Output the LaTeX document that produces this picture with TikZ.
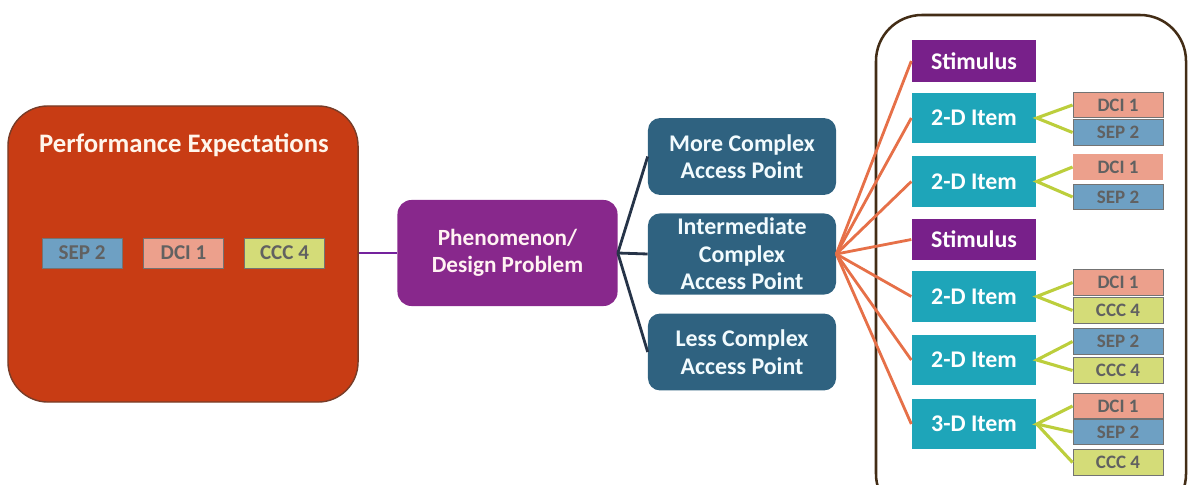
\documentclass[tikz,border=0pt]{standalone}
\usepackage{fontspec}
\setmainfont{Carlito}
\usetikzlibrary{positioning}
\definecolor{perf}{RGB}{200,60,20}
\definecolor{perfedge}{RGB}{120,60,40}
\definecolor{phen}{RGB}{136,40,140}
\definecolor{access}{RGB}{47,98,128}
\definecolor{item}{RGB}{30,165,185}
\definecolor{stim}{RGB}{120,32,138}
\definecolor{sep}{RGB}{110,160,195}
\definecolor{dci}{RGB}{236,160,140}
\definecolor{ccc}{RGB}{212,220,120}
\definecolor{fan}{RGB}{230,112,72}
\definecolor{link}{RGB}{188,206,60}
\definecolor{trunk}{RGB}{38,52,72}

\begin{document}
\begin{tikzpicture}[x=0.025cm, y=-0.025cm,
  big/.style={fill=perf, draw=perfedge, line width=1pt, rounded corners=1cm,
              minimum width=8.75cm, minimum height=7.4cm},
  tag/.style={draw=black!55, line width=0.6pt, minimum width=2cm, minimum height=0.75cm,
              inner sep=0pt, font=\fontsize{15}{17}\selectfont\bfseries, text=black!62},
  rtag/.style={tag, minimum width=2.25cm, minimum height=0.64cm,
               font=\fontsize{13.5}{15}\selectfont\bfseries},
  phenbox/.style={fill=phen, rounded corners=0.35cm, minimum width=5.5cm, minimum height=2.65cm,
                  align=center, font=\fontsize{16.5}{19.5}\selectfont\bfseries, text=pink!20},
  apbox/.style={fill=access, rounded corners=0.3cm, minimum width=4.7cm, minimum height=1.92cm,
                align=center, font=\fontsize{17}{19.5}\selectfont\bfseries, text=white!95!cyan},
  itembox/.style={fill=item, minimum width=3.12cm, minimum height=1.25cm,
                  font=\fontsize{17}{19}\selectfont\bfseries, text=white},
  stimbox/.style={itembox, fill=stim, minimum height=1.04cm},
  fanline/.style={draw=fan, line width=2pt},
  linkline/.style={draw=link, line width=2.2pt}
]
\useasboundingbox (0,0) rectangle (1188,485);

% left block
\node[big] (pe) at (183,254) {};
\node[font=\fontsize{19}{22}\selectfont\bfseries, text=white!92!orange] (petitle) at (184,145) {Performance Expectations};
\node[tag, fill=sep] (pesep) at (82,253) {SEP 2};
\node[tag, fill=dci] (pedci) at (183.5,253) {DCI 1};
\node[tag, fill=ccc] (peccc) at (284.5,253) {CCC 4};

% middle
\node[phenbox] (phen) at (507.5,253) {Phenomenon/\\Design Problem};
\node[apbox] (more)  at (742,156.5) {More Complex\\Access Point};
\node[apbox] (inter) at (742,254)   {Intermediate\\Complex\\Access Point};
\node[apbox] (less)  at (742,352)   {Less Complex\\Access Point};

\draw[draw=phen!85!blue, line width=2pt] (pe.east |- phen.west) -- (phen.west);
\draw[trunk, line width=2pt] (phen.east) -- (more.west);
\draw[trunk, line width=2pt] (phen.east) -- (inter.west);
\draw[trunk, line width=2pt] (phen.east) -- (less.west);

% item bank
\draw[draw=black!65!brown, line width=1.8pt, rounded corners=1.15cm] (876,15) rectangle (1186,520);

\node[stimbox] (stimA) at (974,61)    {Stimulus};
\node[itembox] (itemA) at (974,118)   {2-D Item};
\node[itembox] (itemB) at (974,181.5) {2-D Item};
\node[stimbox] (stimB) at (974,239.5) {Stimulus};
\node[itembox] (itemC) at (974,296.5) {2-D Item};
\node[itembox] (itemD) at (974,360)   {2-D Item};
\node[itembox] (itemE) at (974,424)   {3-D Item};

\node[rtag, fill=dci] (dciA) at (1118,105)   {DCI 1};
\node[rtag, fill=sep] (sepA) at (1118,132.5) {SEP 2};
\node[rtag, fill=dci, draw=none] (dciB) at (1118,167) {DCI 1};
\node[rtag, fill=sep] (sepB) at (1118,197)   {SEP 2};
\node[rtag, fill=dci] (dciC) at (1118,282.5) {DCI 1};
\node[rtag, fill=ccc] (cccC) at (1118,310.5) {CCC 4};
\node[rtag, fill=sep] (sepD) at (1118,341.5) {SEP 2};
\node[rtag, fill=ccc] (cccD) at (1118,370.5) {CCC 4};
\node[rtag, fill=dci] (dciE) at (1118,406)   {DCI 1};
\node[rtag, fill=sep] (sepE) at (1118,432)   {SEP 2};
\node[rtag, fill=ccc] (cccE) at (1118,462.5) {CCC 4};

\foreach \n in {stimA,itemA,itemB,stimB,itemC,itemD,itemE}
  \draw[fanline] (inter.east) -- (\n.west);

\draw[linkline] (dciA.west) -- (itemA.east) -- (sepA.west);
\draw[linkline] (dciB.west) -- (itemB.east) -- (sepB.west);
\draw[linkline] (dciC.west) -- (itemC.east) -- (cccC.west);
\draw[linkline] (sepD.west) -- (itemD.east) -- (cccD.west);
\draw[linkline] (dciE.west) -- (itemE.east) -- (sepE.west);
\draw[linkline] (itemE.east) -- (cccE.west);

\end{tikzpicture}
\end{document}
